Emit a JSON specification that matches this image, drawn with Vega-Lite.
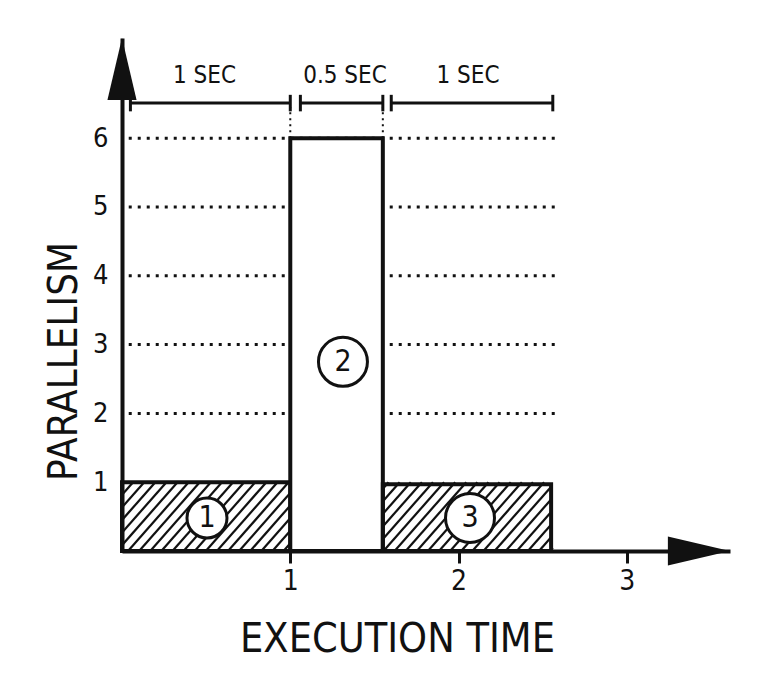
{
  "$schema": "https://vega.github.io/schema/vega-lite/v6.json",
  "width": 608,
  "height": 513,
  "autosize": {"type": "none"},
  "padding": {"left": 122, "top": 38, "right": 40, "bottom": 136},
  "background": "white",
  "config": {
    "view": {"stroke": null},
    "font": "DejaVu Sans Condensed",
    "axis": {
      "grid": false, "domainColor": "#111", "domainWidth": 4,
      "labelColor": "#111", "labelFont": "DejaVu Sans Condensed",
      "titleFont": "DejaVu Sans Condensed", "titleFontWeight": "normal", "titleColor": "#111", "zindex": 1
    },
    "axisX": {"tickColor": "#111", "tickWidth": 3, "tickSize": 12, "labelFontSize": 28, "labelPadding": 4, "titleFontSize": 41},
    "axisY": {"ticks": false, "labelFontSize": 27, "labelPadding": 14, "titleFontSize": 40}
  },
  "datasets": {
    "bars": [
      {"id": 1, "start": 0, "end": 1, "parallelism": 1, "label": "1", "cx": 0.505, "cy": 0.48},
      {"id": 2, "start": 1, "end": 1.55, "parallelism": 6, "label": "2", "cx": 1.313, "cy": 2.75},
      {"id": 3, "start": 1.55, "end": 2.55, "parallelism": 0.97, "label": "3", "cx": 2.068, "cy": 0.48}
    ],
    "spans": [
      {"from": 0.05, "to": 1.0, "mid": 0.49, "text": "1 SEC"},
      {"from": 1.06, "to": 1.55, "mid": 1.325, "text": "0.5 SEC"},
      {"from": 1.6, "to": 2.56, "mid": 2.056, "text": "1 SEC"}
    ],
    "grid": [{"level": 2}, {"level": 3}, {"level": 4}, {"level": 5}, {"level": 6}],
    "hatch": [
      {"a": -0.294, "b": 0.066}, {"a": -0.228, "b": 0.132}, {"a": -0.162, "b": 0.198}, {"a": -0.096, "b": 0.264},
      {"a": -0.03, "b": 0.33}, {"a": 0.036, "b": 0.396}, {"a": 0.102, "b": 0.462}, {"a": 0.168, "b": 0.528},
      {"a": 0.234, "b": 0.594}, {"a": 0.3, "b": 0.66}, {"a": 0.366, "b": 0.726}, {"a": 0.432, "b": 0.792},
      {"a": 0.498, "b": 0.858}, {"a": 0.564, "b": 0.924}, {"a": 0.63, "b": 0.99}, {"a": 0.696, "b": 1.056},
      {"a": 0.762, "b": 1.122}, {"a": 0.828, "b": 1.188}, {"a": 0.894, "b": 1.254}, {"a": 0.96, "b": 1.32},
      {"a": 1.224, "b": 1.584}, {"a": 1.29, "b": 1.65}, {"a": 1.356, "b": 1.716}, {"a": 1.422, "b": 1.782},
      {"a": 1.488, "b": 1.848}, {"a": 1.554, "b": 1.914}, {"a": 1.62, "b": 1.98}, {"a": 1.686, "b": 2.046},
      {"a": 1.752, "b": 2.112}, {"a": 1.818, "b": 2.178}, {"a": 1.884, "b": 2.244}, {"a": 1.95, "b": 2.31},
      {"a": 2.016, "b": 2.376}, {"a": 2.082, "b": 2.442}, {"a": 2.148, "b": 2.508}, {"a": 2.214, "b": 2.574},
      {"a": 2.28, "b": 2.64}, {"a": 2.346, "b": 2.706}, {"a": 2.412, "b": 2.772}, {"a": 2.478, "b": 2.838},
      {"a": 2.544, "b": 2.904}
    ]
  },
  "layer": [
    {
      "data": {"name": "bars"},
      "mark": {"type": "rect", "fill": "white", "opacity": 0},
      "encoding": {
        "x": {
          "field": "start", "type": "quantitative",
          "scale": {"domain": [0, 3.613], "nice": false, "zero": false},
          "axis": {
            "values": [1, 2, 3], "format": "d", "title": "EXECUTION TIME",
            "titleX": 275, "titleY": 100, "titleAlign": "center", "titleBaseline": "alphabetic"
          }
        },
        "x2": {"field": "end"},
        "y": {
          "field": "parallelism", "type": "quantitative",
          "scale": {"domain": [0, 7.456], "nice": false, "zero": false},
          "axis": {
            "values": [1, 2, 3, 4, 5, 6], "format": "d", "title": "PARALLELISM",
            "titleAngle": -90, "titleX": -58, "titleY": 323, "titleAlign": "center", "titleBaseline": "middle"
          }
        },
        "y2": {"datum": 0}
      }
    },
    {
      "data": {"name": "hatch"},
      "mark": {"type": "rule", "clip": true, "color": "#111", "strokeWidth": 2.2},
      "encoding": {
        "x": {"field": "a", "type": "quantitative"},
        "x2": {"field": "b"},
        "y": {"datum": 0, "type": "quantitative"},
        "y2": {"datum": 1}
      }
    },
    {
      "data": {"values": [{"m": 1}]},
      "mark": {"type": "rect", "fill": "white"},
      "encoding": {
        "x": {"datum": 2.56, "type": "quantitative"},
        "x2": {"datum": 3.1},
        "y": {"datum": 0.035, "type": "quantitative"},
        "y2": {"datum": 1.06}
      }
    },
    {
      "data": {"name": "grid"},
      "mark": {"type": "rule", "color": "#111", "strokeWidth": 3, "strokeDash": [3, 6]},
      "encoding": {
        "x": {"datum": 0.04, "type": "quantitative"},
        "x2": {"datum": 2.58},
        "y": {"field": "level", "type": "quantitative"}
      }
    },
    {
      "data": {"name": "bars"},
      "transform": [{"filter": "datum.id === 2"}],
      "mark": {"type": "rule", "color": "#111", "strokeWidth": 2, "strokeDash": [2, 4]},
      "encoding": {
        "x": {"field": "start", "type": "quantitative"},
        "y": {"datum": 6, "type": "quantitative"},
        "y2": {"datum": 6.45}
      }
    },
    {
      "data": {"name": "bars"},
      "transform": [{"filter": "datum.id === 2"}],
      "mark": {"type": "rule", "color": "#111", "strokeWidth": 2, "strokeDash": [2, 4]},
      "encoding": {
        "x": {"field": "end", "type": "quantitative"},
        "y": {"datum": 6, "type": "quantitative"},
        "y2": {"datum": 6.45}
      }
    },
    {
      "data": {"name": "bars"},
      "mark": {"type": "rect", "stroke": "#111", "strokeWidth": 4},
      "encoding": {
        "x": {"field": "start", "type": "quantitative"},
        "x2": {"field": "end"},
        "y": {"field": "parallelism", "type": "quantitative"},
        "y2": {"datum": 0},
        "fill": {"condition": {"test": "datum.id === 2", "value": "white"}, "value": "transparent"}
      }
    },
    {
      "data": {"name": "spans"},
      "mark": {"type": "rule", "color": "#111", "strokeWidth": 3},
      "encoding": {
        "x": {"field": "from", "type": "quantitative"},
        "x2": {"field": "to"},
        "y": {"datum": 6.51, "type": "quantitative"}
      }
    },
    {
      "data": {"name": "spans"},
      "mark": {"type": "rule", "color": "#111", "strokeWidth": 3},
      "encoding": {
        "x": {"field": "from", "type": "quantitative"},
        "y": {"datum": 6.39, "type": "quantitative"},
        "y2": {"datum": 6.63}
      }
    },
    {
      "data": {"name": "spans"},
      "mark": {"type": "rule", "color": "#111", "strokeWidth": 3},
      "encoding": {
        "x": {"field": "to", "type": "quantitative"},
        "y": {"datum": 6.39, "type": "quantitative"},
        "y2": {"datum": 6.63}
      }
    },
    {
      "data": {"name": "spans"},
      "mark": {"type": "text", "fontSize": 24, "color": "#111", "baseline": "middle", "align": "center", "font": "DejaVu Sans Condensed"},
      "encoding": {
        "x": {"field": "mid", "type": "quantitative"},
        "y": {"datum": 6.9, "type": "quantitative"},
        "text": {"field": "text"}
      }
    },
    {
      "data": {"name": "bars"},
      "mark": {"type": "point", "shape": "circle", "filled": true, "fill": "white", "stroke": "#111", "strokeWidth": 3, "opacity": 1},
      "encoding": {
        "x": {"field": "cx", "type": "quantitative"},
        "y": {"field": "cy", "type": "quantitative"},
        "size": {"condition": {"test": "datum.id === 1", "value": 1600}, "value": 2400}
      }
    },
    {
      "data": {"name": "bars"},
      "mark": {"type": "text", "fontSize": 30, "color": "#111", "baseline": "middle", "align": "center", "font": "DejaVu Sans Condensed"},
      "encoding": {
        "x": {"field": "cx", "type": "quantitative"},
        "y": {"field": "cy", "type": "quantitative"},
        "text": {"field": "label"}
      }
    },
    {
      "data": {"values": [{"arrow": "x"}]},
      "mark": {"type": "point", "shape": "M -1 -0.47 L 1 0 L -1 0.47 Z", "filled": true, "color": "#111", "opacity": 1, "size": 3844},
      "encoding": {
        "x": {"datum": 3.428, "type": "quantitative"},
        "y": {"datum": 0, "type": "quantitative"}
      }
    },
    {
      "data": {"values": [{"arrow": "y"}]},
      "mark": {"type": "point", "shape": "M -0.47 1 L 0 -1 L 0.47 1 Z", "filled": true, "color": "#111", "opacity": 1, "size": 3844},
      "encoding": {
        "x": {"datum": 0, "type": "quantitative"},
        "y": {"datum": 7.006, "type": "quantitative"}
      }
    }
  ]
}
